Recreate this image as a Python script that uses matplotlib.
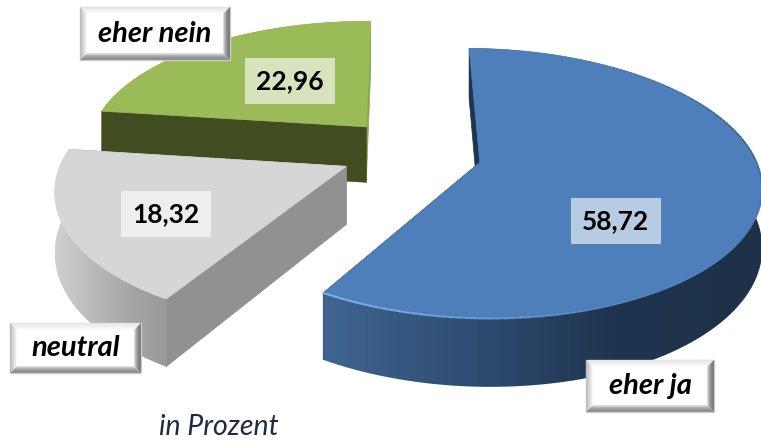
import numpy as np
import matplotlib
matplotlib.use("Agg")
import matplotlib.pyplot as plt
from matplotlib.colors import LinearSegmentedColormap, to_rgb
from matplotlib.patches import Polygon, Rectangle

categories = ['eher ja', 'neutral', 'eher nein']
values = [58.72, 18.32, 22.96]
value_labels = ['58,72', '18,32', '22,96']
footnote = 'in Prozent'

# projection of the tilted pie plane into pixels
CX, CY = 400, 165
R, B, D = 282, 133, 58
K, J = 0.157, -0.01

# exploded offset of each slice on the plane
offsets = [(0.285, -0.02), (-0.19, 0.01), (-0.125, -0.30)]

top_colors = ['#4e7fba', '#d6d6d6', '#9bbb59']
# outer wall colours, from the left end of the wall to the right end
wall_stops = [['#3f6590', '#2f4d72', '#1f344f', '#1d3149'],
              ['#d0d0d0', '#bababa', '#a6a6a6', '#999999'],
              ['#8ba64f', '#8ba64f', '#8ba64f', '#8ba64f']]
face_start = ['#1f3450', '#919191', '#414d21']
face_end = ['#1f3450', '#919191', '#8ba64f']

value_pos = [(616, 221), (166, 214), (290, 81)]
tag_boxes = [(586, 360, 714, 412), (10, 323, 141, 373), (80, 7, 230, 60)]


def project(u, v, off, z=0.0):
    x = off[0] + np.asarray(u)
    y = off[1] + np.asarray(v)
    s = 1 / (1 - K * y - J * x)
    return CX + R * x * s, CY + B * y * s + D * z * s


def draw_slice(ax, start, end, off, idx):
    t = np.radians(np.linspace(start, end, 160))
    u, v = np.sin(t), -np.cos(t)
    x0, y0 = project(u, v, off)
    x1, y1 = project(u, v, off, 1.0)
    ax_, ay_ = project(0.0, 0.0, off)
    bx_, by_ = project(0.0, 0.0, off, 1.0)
    base = idx * -10

    # back radial face first
    ax.add_patch(Polygon([(x0[-1], y0[-1]), (ax_, ay_), (bx_, by_), (x1[-1], y1[-1])],
                         fc=face_end[idx], ec=face_end[idx], lw=0.5, zorder=base + 1))

    # outer wall, horizontal gradient clipped to the wall outline
    wall = Polygon(np.column_stack([np.concatenate([x0, x1[::-1]]),
                                    np.concatenate([y0, y1[::-1]])]),
                   transform=ax.transData, fc='none', ec='none')
    ax.add_patch(wall)
    cmap = LinearSegmentedColormap.from_list('wall', [to_rgb(c) for c in wall_stops[idx]])
    grad = np.linspace(0, 1, 256).reshape(1, -1)
    im = ax.imshow(grad, cmap=cmap, aspect='auto', interpolation='bilinear',
                   extent=(x0.min(), x0.max(), y1.max(), y0.min()), zorder=base + 2)
    im.set_clip_path(wall)

    # front radial face
    ax.add_patch(Polygon([(x0[0], y0[0]), (ax_, ay_), (bx_, by_), (x1[0], y1[0])],
                         fc=face_start[idx], ec=face_start[idx], lw=0.5, zorder=base + 2.5))

    # top surface
    xs = np.concatenate([[ax_], x0])
    ys = np.concatenate([[ay_], y0])
    ax.add_patch(Polygon(np.column_stack([xs, ys]), fc=top_colors[idx],
                         ec=top_colors[idx], lw=0.5, zorder=base + 3))
    return x0, y0


def mix(color, f):
    c = np.array(to_rgb(color))
    return tuple(c + (1 - c) * f)


def draw_tag(ax, box, text):
    x0, y0, x1, y1 = box
    b = 7
    ax.add_patch(Rectangle((x0, y0), x1 - x0, y1 - y0, fc='white', ec='#cfcfcf', lw=1, zorder=20))
    # bevel drawn in steps, fading to white towards the middle
    for j in range(b):
        a, f = j, j / b
        c = j + 1
        ax.add_patch(Polygon([(x0 + a, y0 + a), (x1 - a, y0 + a), (x1 - c, y0 + c), (x0 + c, y0 + c)],
                             fc=mix('#e6e6e6', f), ec='none', zorder=21))
        ax.add_patch(Polygon([(x0 + a, y0 + a), (x0 + c, y0 + c), (x0 + c, y1 - c), (x0 + a, y1 - a)],
                             fc=mix('#bdbdbd', f), ec='none', zorder=21))
        ax.add_patch(Polygon([(x1 - a, y0 + a), (x1 - c, y0 + c), (x1 - c, y1 - c), (x1 - a, y1 - a)],
                             fc=mix('#7c7c7c', f * f), ec='none', zorder=21))
        ax.add_patch(Polygon([(x0 + a, y1 - a), (x0 + c, y1 - c), (x1 - c, y1 - c), (x1 - a, y1 - a)],
                             fc=mix('#8f8f8f', f * f), ec='none', zorder=21))
    ax.text((x0 + x1) / 2, (y0 + y1) / 2, text, ha='center', va='center', fontsize=21,
            fontweight='bold', fontstyle='italic', family='Lato', color='black', zorder=22)


fig = plt.figure(figsize=(7.61, 4.40), dpi=100)
ax = fig.add_axes([0, 0, 1, 1])

angles = np.cumsum([0] + values) / sum(values) * 360
rims = []
for i in range(len(values)):
    rims.append(draw_slice(ax, angles[i], angles[i + 1], offsets[i], i))

# light rim on the lower left of the blue slice, soft dark rim on its right
x0, y0 = rims[0]
n = len(x0)
for i in range(n - 1):
    f = i / (n - 1)
    if f > 0.72:
        ax.plot(x0[i:i + 2], y0[i:i + 2], color='#7fb0ea', lw=1.5, alpha=min(1.0, (f - 0.72) / 0.28),
                zorder=4, solid_capstyle='round')
    elif 0.15 < f < 0.6:
        ax.plot(x0[i:i + 2], y0[i:i + 2], color='#2b4768', lw=1.5,
                alpha=0.35 * (1 - abs(f - 0.38) / 0.23), zorder=4, solid_capstyle='round')

for (px, py), lab in zip(value_pos, value_labels):
    ax.text(px, py, lab, ha='center', va='center', fontsize=19, fontweight='bold',
            family='Lato', color='black', zorder=10,
            bbox=dict(boxstyle='square,pad=0.42', fc='white', ec='none', alpha=0.6))

for box, cat in zip(tag_boxes, categories):
    draw_tag(ax, box, cat)

ax.text(219, 427, footnote, ha='center', va='center', fontsize=20.5, fontstyle='italic',
        family='Lato', color='#1f2a44')

ax.set_xlim(0, 761)
ax.set_ylim(440, 0)
ax.axis('off')

fig.savefig('out.png', dpi=100)
